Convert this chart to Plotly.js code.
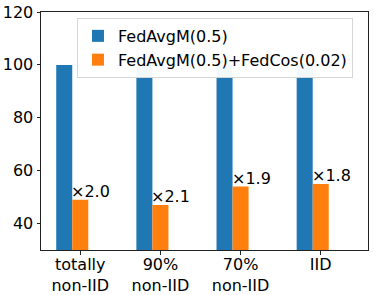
<!DOCTYPE html>
<html><head><meta charset="utf-8">
<script src="https://cdn.plot.ly/plotly-3.0.1.min.js"></script>
<style>html,body{margin:0;padding:0;background:#fff}#c{width:374px;height:295px}</style>
</head><body><div id="c"></div>
<script>
const categories = ["totally<br>non-IID", "90%<br>non-IID", "70%<br>non-IID", "IID"];
const fedAvgM = [100, 100, 100, 100];
const fedAvgMCos = [49, 47, 54, 55];
const speedup = ["×2.0", "×2.1", "×1.9", "×1.8"];
const seriesNames = ["FedAvgM(0.5)", "FedAvgM(0.5)+FedCos(0.02)"];

const idx = categories.map((_, i) => i);
const font = {family: "DejaVu Sans, sans-serif", size: 16, color: "#000"};

const traces = [
  {type: "bar", name: seriesNames[0], x: idx, y: fedAvgM, width: 0.2, offset: -0.3,
   marker: {color: "#1f77b4"}},
  {type: "bar", name: seriesNames[1], x: idx, y: fedAvgMCos, width: 0.2, offset: -0.1,
   marker: {color: "#ff7f0e"}}
];

const annotations = idx.map(i => ({
  x: i - 0.1, y: fedAvgMCos[i], xref: "x", yref: "y", text: speedup[i],
  showarrow: false, xanchor: "left", yanchor: "bottom", yshift: -3, xshift: -3,
  font: font
}));

const layout = {
  width: 374, height: 295,
  margin: {l: 41, r: 6, t: 12, b: 45},
  paper_bgcolor: "#fff", plot_bgcolor: "#fff",
  font: font,
  barmode: "overlay",
  showlegend: true,
  legend: {x: 0.11, y: 0.975, xanchor: "left", yanchor: "top",
           bgcolor: "rgba(255,255,255,0.95)", bordercolor: "#d6d6d6", borderwidth: 1,
           font: font, itemwidth: 30, tracegroupgap: 0},
  xaxis: {range: [-0.49, 3.59], tickvals: idx, ticktext: categories,
          showline: true, linecolor: "#222", linewidth: 1, mirror: true,
          ticks: "outside", ticklen: 3.5, tickcolor: "#222", showgrid: false, zeroline: false,
          ticklabelstandoff: -4, tickfont: font},
  yaxis: {range: [30, 120], tickvals: [40, 60, 80, 100, 120],
          showline: true, linecolor: "#222", linewidth: 1, mirror: true,
          ticks: "outside", ticklen: 3.5, tickcolor: "#222", showgrid: false, zeroline: false,
          tickfont: font},
  annotations: annotations
};

Plotly.newPlot("c", traces, layout, {displayModeBar: false, staticPlot: true});
</script>
</body></html>
